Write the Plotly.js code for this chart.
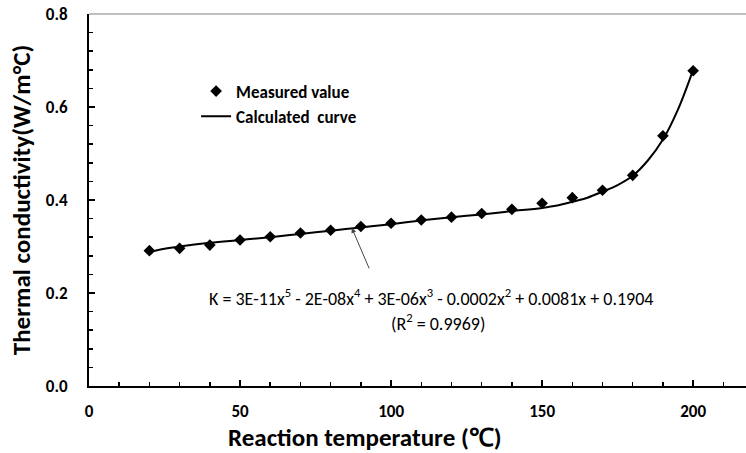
<!DOCTYPE html>
<html>
<head>
<meta charset="utf-8">
<script src="https://cdn.plot.ly/plotly-3.0.1.min.js"></script>
<style>html,body{margin:0;padding:0;background:#fff;}#chart{width:746px;height:453px;}</style>
</head>
<body>
<div id="chart"></div>
<script>
// Measured values
const measuredTemp = [20, 30, 40, 50, 60, 70, 80, 90, 100, 110, 120, 130, 140, 150, 160, 170, 180, 190, 200];
const measuredK = [0.291, 0.296, 0.303, 0.314, 0.321, 0.329, 0.335, 0.343, 0.350, 0.357, 0.363, 0.371, 0.380, 0.393, 0.405, 0.421, 0.453, 0.538, 0.678];

// Calculated (fitted) curve
const curveTemp = [20, 25, 30, 40, 50, 60, 70, 80, 90, 100, 110, 120, 130, 140, 150, 155, 160, 165, 170, 175, 180, 185, 190, 195, 200];
const curveK = [0.288, 0.295, 0.300, 0.308, 0.314, 0.320, 0.327, 0.334, 0.341, 0.348, 0.356, 0.363, 0.369, 0.376, 0.383, 0.388, 0.396, 0.405, 0.418, 0.432, 0.452, 0.485, 0.530, 0.595, 0.680];

const legendNames = ["Measured value", "Calculated  curve"];
const xTitle = "Reaction temperature (℃)";
const yTitle = "Thermal conductivity(W/m°C)";
const equationText = "K = 3E-11x<sup>5</sup> - 2E-08x<sup>4</sup> + 3E-06x<sup>3</sup> - 0.0002x<sup>2</sup> + 0.0081x + 0.1904";
const r2Text = "(R<sup>2</sup> = 0.9969)";

const FONT = "Carlito, Lato, 'Open Sans', sans-serif";

const traces = [
  {
    x: measuredTemp, y: measuredK, type: "scatter", mode: "markers",
    name: legendNames[0],
    marker: {symbol: "diamond", size: 9, color: "#000"}
  },
  {
    x: curveTemp, y: curveK, type: "scatter", mode: "lines",
    name: legendNames[1],
    line: {color: "#000", width: 2, shape: "spline", smoothing: 1}
  }
];

const layout = {
  width: 746, height: 453,
  margin: {l: 89, r: 0, t: 14, b: 67},
  paper_bgcolor: "#fff", plot_bgcolor: "#fff",
  font: {family: FONT, color: "#000"},
  showlegend: true,
  legend: {
    x: 0.163, y: 0.84, xanchor: "left", yanchor: "top",
    bgcolor: "rgba(0,0,0,0)", borderwidth: 0,
    font: {family: FONT, size: 17, color: "#000", weight: "bold"},
    tracegroupgap: 2, itemwidth: 30
  },
  xaxis: {
    range: [0, 217.5], dtick: 50, tick0: 0,
    showgrid: false, zeroline: false,
    showline: true, linecolor: "#000", linewidth: 2,
    ticks: "inside", ticklen: 6, tickwidth: 1.5, tickcolor: "#000",
    minor: {dtick: 10, ticks: "inside", ticklen: 4, tickwidth: 1.5, tickcolor: "#000", showgrid: false},
    tickfont: {family: FONT, size: 17, color: "#000", weight: "bold"},
    ticklabelstandoff: 9
  },
  yaxis: {
    range: [0, 0.8], dtick: 0.2, tick0: 0, tickformat: ".1f",
    showgrid: false, zeroline: false,
    showline: true, linecolor: "#000", linewidth: 2,
    ticks: "inside", ticklen: 6, tickwidth: 1.5, tickcolor: "#000",
    minor: {dtick: 0.04, ticks: "inside", ticklen: 4, tickwidth: 1.5, tickcolor: "#000", showgrid: false},
    tickfont: {family: FONT, size: 17, color: "#000", weight: "bold"},
    ticklabelstandoff: 16,
    title: {text: yTitle, font: {family: FONT, size: 25, color: "#000", weight: "bold"}, standoff: 8}
  },
  shapes: [
    {type: "line", xref: "paper", yref: "paper", x0: 0, x1: 1, y0: 1, y1: 1, line: {color: "#aaa", width: 1.5}}
  ],
  annotations: [
    {
      x: 87, y: 0.340, xref: "x", yref: "y", text: "",
      showarrow: true, ax: 18, ay: 42, arrowhead: 2, arrowsize: 1, arrowwidth: 1, arrowcolor: "#444", standoff: 0
    },
    {
      x: 431, y: 297, xref: "paper", yref: "paper", text: equationText, showarrow: false,
      xanchor: "center", yanchor: "middle",
      font: {family: FONT, size: 18, color: "#000"}
    },
    {
      x: 438, y: 322, xref: "paper", yref: "paper", text: r2Text, showarrow: false,
      xanchor: "center", yanchor: "middle",
      font: {family: FONT, size: 18, color: "#000"}
    },
    {
      x: 364, y: 437, xref: "paper", yref: "paper", text: xTitle, showarrow: false,
      xanchor: "center", yanchor: "middle",
      font: {family: FONT, size: 25, color: "#000", weight: "bold"}
    }
  ]
};

// convert pixel-position anchors of the text labels to paper coordinates
(function(){
  const l = 89, w = 746 - 89 - 0, t = 14, h = 453 - 14 - 67;
  for (let i = 1; i < layout.annotations.length; i++) {
    const a = layout.annotations[i];
    a.x = (a.x - l) / w;
    a.y = 1 - (a.y - t) / h;
  }
})();

Plotly.newPlot("chart", traces, layout, {displayModeBar: false, staticPlot: true});
</script>
</body>
</html>
